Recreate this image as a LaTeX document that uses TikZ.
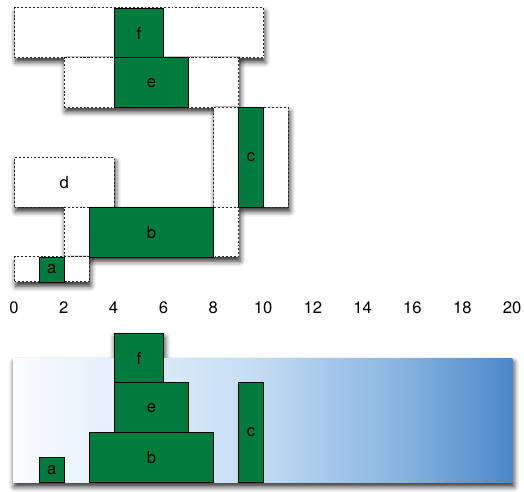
\documentclass[tikz,border=0pt]{standalone}
\usepackage{fontspec}
\setmainfont{TeX Gyre Heros}
\usetikzlibrary{shadows.blur}
\definecolor{boxgreen}{RGB}{0,122,61}
\definecolor{gA}{RGB}{250,252,255}
\definecolor{gB}{RGB}{197,221,243}
\definecolor{gC}{RGB}{135,180,224}
\definecolor{gD}{RGB}{74,136,200}
\pgfdeclarehorizontalshading{barshade}{100bp}{color(0bp)=(gA); color(25bp)=(gA); color(49bp)=(gB); color(64bp)=(gC); color(75bp)=(gD); color(100bp)=(gD)}
\tikzset{
  softshadow/.style={blur shadow={shadow xshift=0.8pt, shadow yshift=-2.4pt, shadow blur radius=3pt, shadow opacity=85}},
  slot/.style={draw=black!85, dash pattern=on 1.1pt off 1.1pt, line width=0.6pt, fill=white, inner sep=0pt, anchor=south west, softshadow},
  job/.style={draw=black, line width=0.5pt, fill=boxgreen, inner sep=0pt, anchor=south west},
  tick/.style={inner sep=0pt},
}
\begin{document}
\begin{tikzpicture}[x=0.5cm, y=0.5cm, font=\fontsize{9.5}{10}\selectfont]
\useasboundingbox (-0.562,-0.333) rectangle (20.48,19.39);
% top schedule
\node[slot, minimum width=5cm, minimum height=1cm] (fbox) at (0,17.05) {};
\node[job, minimum width=1cm, minimum height=1cm] (f) at (4,17.05) {f};
\node[slot, minimum width=3.5cm, minimum height=1cm] (ebox) at (2,15.05) {};
\node[job, minimum width=1.5cm, minimum height=1cm] (e) at (4,15.05) {e};
\node[slot, minimum width=1.5cm, minimum height=2cm] (cbox) at (8,11.05) {};
\node[job, minimum width=0.5cm, minimum height=2cm] (c) at (9,11.05) {c};
\node[slot, minimum width=2cm, minimum height=1cm] (dbox) at (0,11.05) {d};
\node[slot, minimum width=3.5cm, minimum height=1cm] (bbox) at (2,9.05) {};
\node[job, minimum width=2.5cm, minimum height=1cm] (b) at (3,9.05) {b};
\node[slot, minimum width=1.5cm, minimum height=0.5cm] (abox) at (0,8.05) {};
\node[job, minimum width=0.5cm, minimum height=0.5cm] (a) at (1,8.05) {a};
% axis labels
\foreach \v in {0,2,...,20} {\node[tick] (t\v) at (\v,7.02) {\v};}
% bottom packing
\path[softshadow] (4,4) rectangle (6,6);
\node[inner sep=0pt, anchor=south west, minimum width=10.025cm, minimum height=2.5cm, shading=barshade, softshadow] (bar) at (-0.05,0) {};
\node[job, minimum width=1cm, minimum height=1cm] (f2) at (4,4) {f};
\node[job, minimum width=0.5cm, minimum height=0.5cm] (a2) at (1,0) {a};
\node[job, minimum width=2.5cm, minimum height=1cm] (b2) at (3,0) {b};
\node[job, minimum width=1.5cm, minimum height=1cm] (e2) at (4,2) {e};
\node[job, minimum width=0.5cm, minimum height=2cm] (c2) at (9,0) {c};
\end{tikzpicture}
\end{document}
